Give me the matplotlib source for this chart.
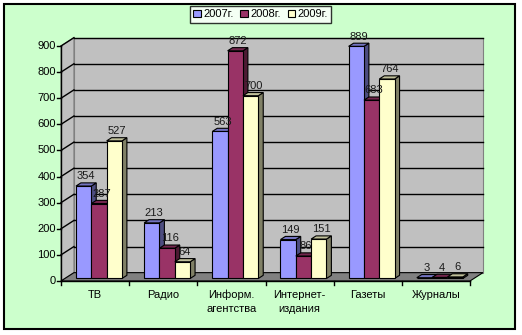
import matplotlib
matplotlib.use("Agg")
import matplotlib.pyplot as plt
from matplotlib.patches import Polygon, Rectangle, Patch

plt.rcParams['font.family'] = ['Liberation Sans', 'DejaVu Sans']

categories = ["ТВ", "Радио", "Информ.\nагентства", "Интернет-\nиздания", "Газеты", "Журналы"]
series_names = ["2007г.", "2008г.", "2009г."]
v2007 = [354, 213, 563, 149, 889, 3]
v2008 = [287, 116, 872, 86, 683, 4]
v2009 = [527, 64, 700, 151, 764, 6]
yticks = [0, 100, 200, 300, 400, 500, 600, 700, 800, 900]

series = [v2007, v2008, v2009]
front_cols = ["#9999FF", "#993366", "#FFFFCC"]
top_cols = ["#7373C0", "#73264D", "#C0C09A"]
side_cols = ["#4D4D80", "#4D1A33", "#808066"]

W, H = 522, 335
fig = plt.figure(figsize=(W / 100, H / 100), dpi=100)
fig.patch.set_facecolor("white")
fig.add_artist(Rectangle((4 / W, (H - 329) / H), 511 / W, 325 / H, transform=fig.transFigure,
                         facecolor="#CCFFCC", edgecolor="black", lw=1.5, zorder=-10))

ax = fig.add_axes([61 / W, (H - 281) / H, 409 / W, 235 / H])
ax.set_xlim(0, 6)
ax.set_ylim(0, 900)
ax.axis("off")

n = len(categories)
DX, DY = 0.19, 32.0          # full depth offset (data units)
ymax = yticks[-1]
pxx = 409 / 6
pxy = 235 / 900

# walls and floor
ax.add_patch(Polygon([(0, 0), (DX, DY), (DX, ymax + DY), (0, ymax)], closed=True,
                     facecolor="#C0C0C0", edgecolor="#808080", lw=0.8, clip_on=False, zorder=1))
ax.add_patch(Polygon([(DX, DY), (n + DX, DY), (n + DX, ymax + DY), (DX, ymax + DY)], closed=True,
                     facecolor="#C0C0C0", edgecolor="#808080", lw=0.8, clip_on=False, zorder=1))
ax.add_patch(Polygon([(0, 0), (n, 0), (n + DX, DY), (DX, DY)], closed=True,
                     facecolor="#808080", edgecolor="black", lw=0.8, clip_on=False, zorder=2))
for v in yticks[1:]:
    ax.plot([DX, n + DX], [v + DY, v + DY], color="black", lw=1, clip_on=False, zorder=2)
    ax.plot([0, DX], [v, v + DY], color="black", lw=1, clip_on=False, zorder=2)

# axes lines and ticks
ax.plot([0, 0], [0, ymax], color="black", lw=1, clip_on=False, zorder=3)
ax.plot([0, n], [0, 0], color="black", lw=1, clip_on=False, zorder=3)
tx = 4 / pxx
ty = 4 / pxy
for v in yticks:
    ax.plot([-tx, 0], [v, v], color="black", lw=1, clip_on=False, zorder=3)
    ax.text(-5 / pxx, v, str(v), ha="right", va="center", fontsize=8, zorder=10)
for i in range(n + 1):
    ax.plot([i, i], [0, -ty], color="black", lw=1, clip_on=False, zorder=3)
for i, c in enumerate(categories):
    ax.text(i + 0.5, -9 / pxy, c, ha="center", va="top", fontsize=8, linespacing=1.45, zorder=10)

# 3D-like bars
f = 0.3
fx, fy = f * DX, f * DY
bdx, bdy = 0.38 * DX, 0.38 * DY
BW = 0.225
for i in range(n):
    for s in range(3):
        v = series[s][i]
        x0 = i + 0.5 - 1.5 * BW + s * BW + fx
        z = 5 + s
        ax.add_patch(Polygon([(x0 + BW, fy), (x0 + BW + bdx, fy + bdy), (x0 + BW + bdx, fy + v + bdy),
                              (x0 + BW, fy + v)], closed=True, facecolor=side_cols[s],
                             edgecolor="black", lw=0.8, clip_on=False, zorder=z))
        ax.add_patch(Polygon([(x0, fy + v), (x0 + BW, fy + v), (x0 + BW + bdx, fy + v + bdy),
                              (x0 + bdx, fy + v + bdy)], closed=True, facecolor=top_cols[s],
                             edgecolor="black", lw=0.8, clip_on=False, zorder=z))
        ax.bar(x0, v, width=BW, bottom=fy, align="edge", color=front_cols[s],
               edgecolor="black", lw=0.8, clip_on=False, zorder=z)
        ax.text(x0 + BW / 2 + bdx / 2, fy + v + bdy + 6, str(v), ha="center", va="bottom",
                fontsize=8, color="#1a1a1a", zorder=20)

handles = [Patch(facecolor=front_cols[s], edgecolor="black", lw=0.8) for s in range(3)]
fig.legend(handles, series_names, loc="upper left", bbox_to_anchor=(190 / W, 1 - 6 / H),
           ncol=3, fontsize=8, frameon=True, fancybox=False, edgecolor="black",
           handlelength=0.7, handleheight=0.7, handletextpad=0.2, columnspacing=0.6,
           borderpad=0.3, borderaxespad=0)

fig.savefig("out.png", dpi=100)
